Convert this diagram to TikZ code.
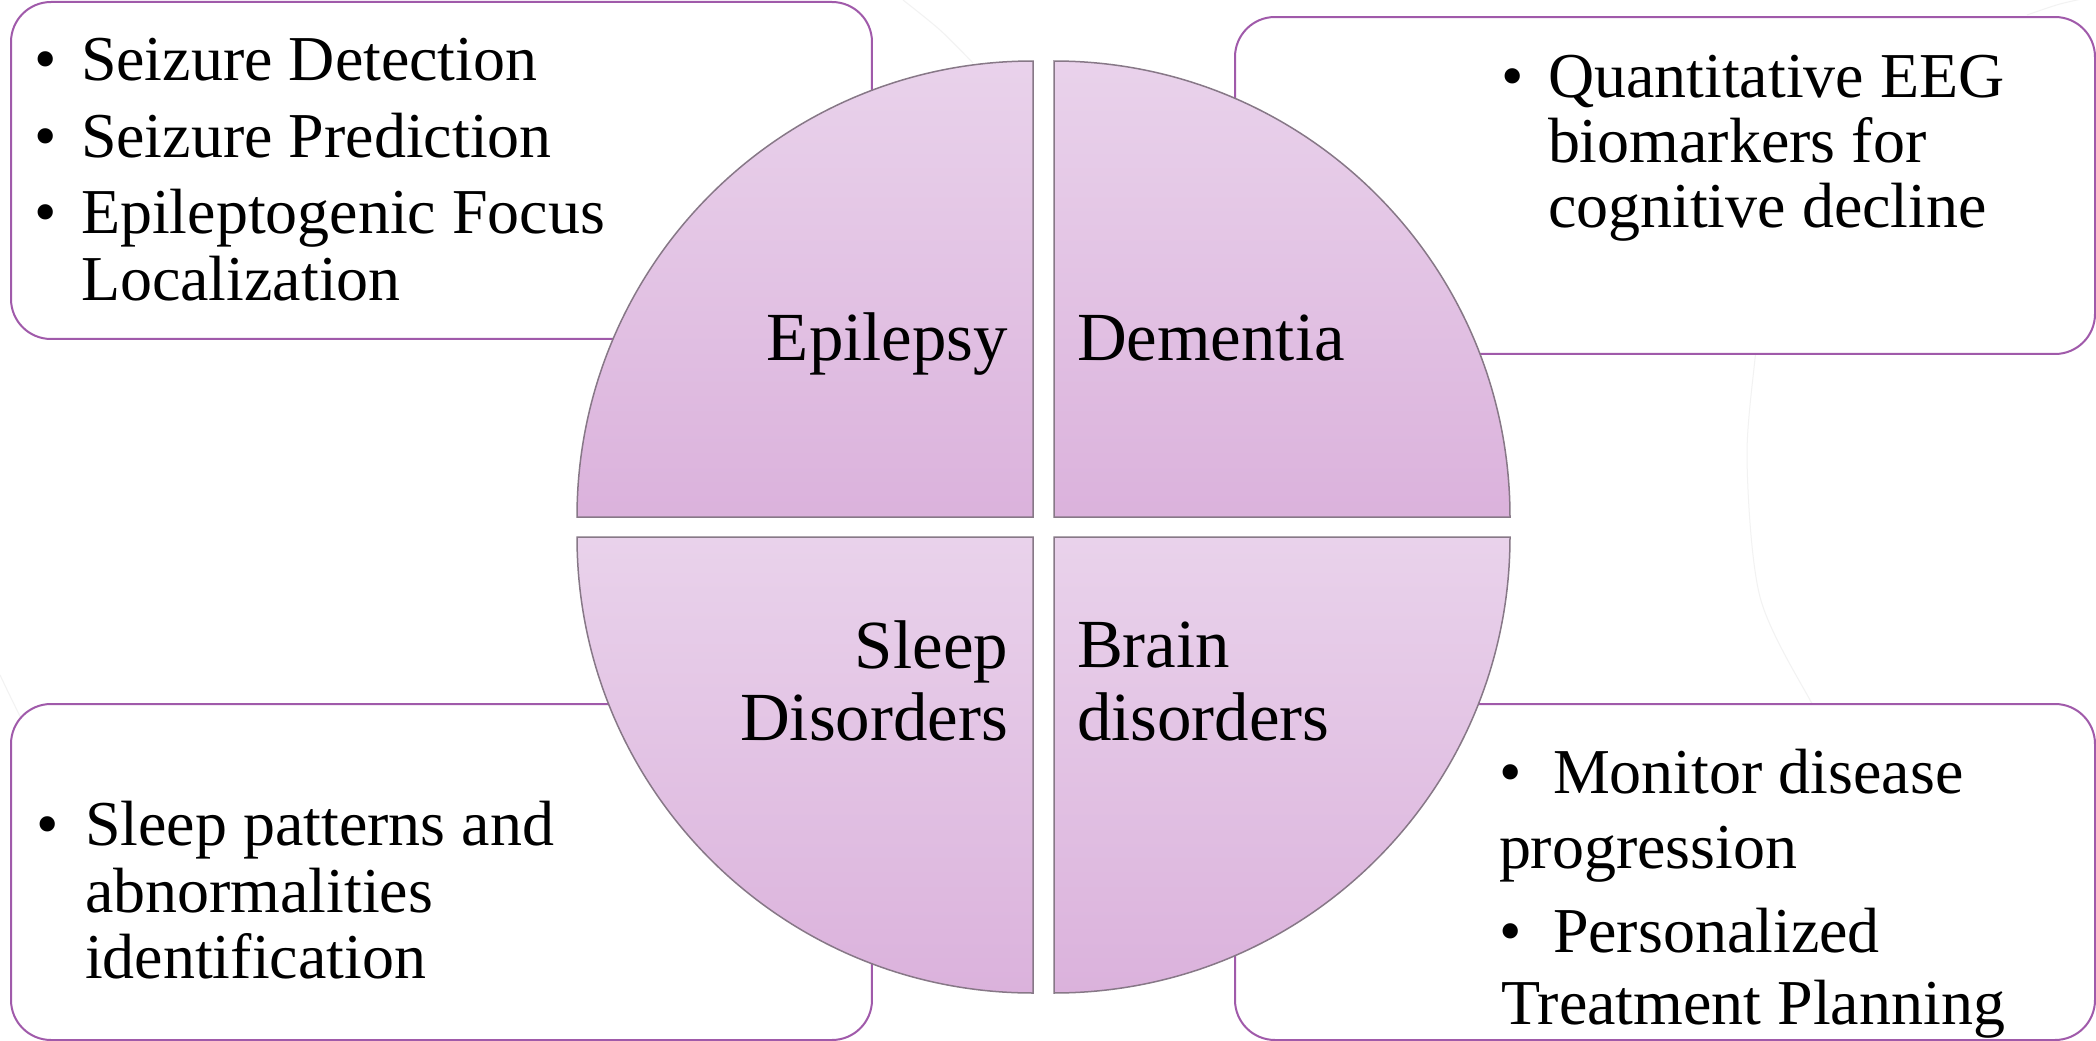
\documentclass[tikz,border=0pt]{standalone}
\usepackage{fontspec}
\setmainfont{Liberation Serif}
\definecolor{boxline}{RGB}{160,90,170}
\definecolor{pietop}{RGB}{233,210,235}
\definecolor{piebot}{RGB}{219,178,220}
\definecolor{pieline}{RGB}{135,120,135}
\definecolor{faint}{RGB}{242,242,242}
\begin{document}
\begin{tikzpicture}[x=0.1mm,y=-0.1mm,
  infobox/.style={draw=boxline,line width=0.2mm,fill=white,rounded corners=4mm,anchor=north west,inner sep=0},
  quad/.style={draw=pieline,line width=0.15mm,top color=pietop,bottom color=piebot},
  txt/.style={inner sep=0,outer sep=0,anchor=base west,font=\fontsize{18.2pt}{19pt}\selectfont},
  lbl/.style={inner sep=0,outer sep=0,font=\fontsize{19.6pt}{20.5pt}\selectfont},
  bg/.style={draw=faint,line width=0.1mm}]
\useasboundingbox (0,0) rectangle (2096,1041);
\fill[white] (0,0) rectangle (2096,1041);
% faint background arcs
\draw[bg] plot[smooth] coordinates {(1762,240) (1757,337) (1747,457) (1760,597) (1810,700) (1840,745)};
\draw[bg] plot[smooth] coordinates {(903,0) (940,30) (973,63)};
\draw[bg] plot[smooth] coordinates {(0,675) (22,720) (45,760)};
\draw[bg] plot[smooth] coordinates {(2027,15) (2060,4) (2096,-4)};
% boxes
\node[infobox,minimum width=86.1mm,minimum height=33.7mm] (boxTL) at (10,1) {};
\node[infobox,minimum width=86.0mm,minimum height=33.7mm] (boxTR) at (1234,16) {};
\node[infobox,minimum width=86.1mm,minimum height=33.6mm] (boxBL) at (10,703) {};
\node[infobox,minimum width=86.0mm,minimum height=33.6mm] (boxBR) at (1234,703) {};
% pie quadrants
\path[quad] (1033,517) -- (577,517) arc[start angle=180,end angle=90,radius=45.6mm] -- cycle;
\path[quad] (1054,517) -- (1054,61) arc[start angle=90,end angle=0,radius=45.6mm] -- cycle;
\path[quad] (1033,537) -- (1033,993) arc[start angle=270,end angle=180,radius=45.6mm] -- cycle;
\path[quad] (1054,537) -- (1510,537) arc[start angle=0,end angle=-90,radius=45.6mm] -- cycle;
% quadrant labels
\node[lbl,anchor=base east] (epi) at (1008,360) {Epilepsy};
\node[lbl,anchor=base west] (dem) at (1077,360) {Dementia};
\node[lbl,anchor=base east] (sl1) at (1008,668) {Sleep};
\node[lbl,anchor=base east] (sl2) at (1008,740) {Disorders};
\node[lbl,anchor=base west] (br1) at (1077,667) {Brain};
\node[lbl,anchor=base west] (br2) at (1077,740) {disorders};
% top-left box text
\node[txt] (b1) at (34,80) {•};
\node[txt] (t1) at (81,80) {Seizure Detection};
\node[txt] (b2) at (34,157) {•};
\node[txt] (t2) at (81,157) {Seizure Prediction};
\node[txt] (b3) at (34,233) {•};
\node[txt] (t3) at (81,233) {Epileptogenic Focus};
\node[txt] (t4) at (81,300) {Localization};
% top-right box text
\node[txt] (b4) at (1501,97) {•};
\node[txt] (t5) at (1548,97) {Quantitative EEG};
\node[txt] (t6) at (1548,162) {biomarkers for};
\node[txt] (t7) at (1548,227) {cognitive decline};
% bottom-left box text
\node[txt] (b5) at (36,845) {•};
\node[txt] (t8) at (85,845) {Sleep patterns and};
\node[txt] (t9) at (85,912) {abnormalities};
\node[txt] (t10) at (85,978) {identification};
% bottom-right box text
\node[txt] (b6) at (1499,793) {•};
\node[txt] (t11) at (1553,793) {Monitor disease};
\node[txt] (t12) at (1499,868) {progression};
\node[txt] (b7) at (1499,952) {•};
\node[txt] (t13) at (1553,952) {Personalized};
\node[txt] (t14) at (1501,1024) {Treatment Planning};
\end{tikzpicture}
\end{document}
